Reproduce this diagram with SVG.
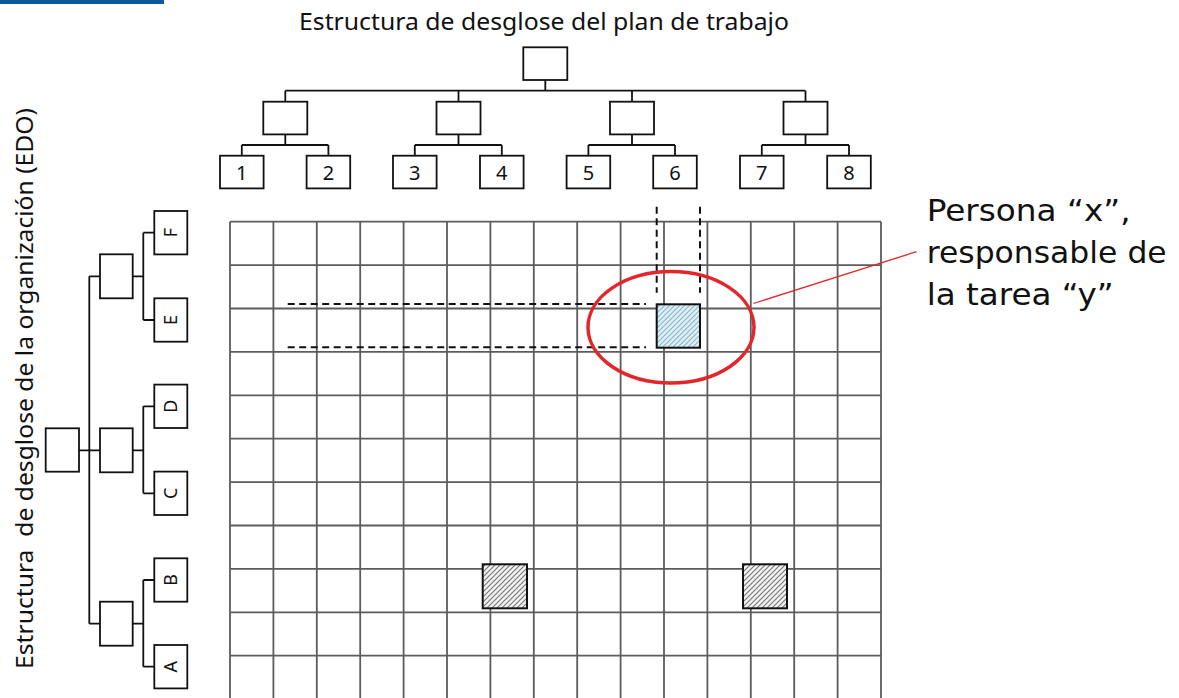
<svg xmlns="http://www.w3.org/2000/svg" width="1179" height="698" viewBox="0 0 1179 698">
<style>
.box{fill:#fff;stroke:#111;stroke-width:1.8}
.ln{fill:none;stroke:#111;stroke-width:1.8}
.grid{fill:none;stroke:#5c5c5c;stroke-width:1.8}
.dash{fill:none;stroke:#111;stroke-width:2;stroke-dasharray:7 4.5}
.lbl{font-family:"Noto Sans","Open Sans",sans-serif;font-size:20px;fill:#111;text-anchor:middle}
.lbl2{font-family:"Noto Sans","Open Sans",sans-serif;font-size:18px;fill:#111;text-anchor:middle}
.ttl{font-family:"Noto Sans","Open Sans",sans-serif;font-size:24px;fill:#111}
.note{font-family:"DejaVu Sans","Noto Sans",sans-serif;font-size:31px;fill:#111}
</style>
<defs>
<pattern id="hatchGray" patternUnits="userSpaceOnUse" width="5" height="5">
<rect width="5" height="5" fill="#f2f2f2"/>
<path d="M-1,6 L6,-1 M-1,1 L1,-1 M4,6 L6,4" stroke="#7a7a7a" stroke-width="1.2"/>
</pattern>
<pattern id="hatchBlue" patternUnits="userSpaceOnUse" width="5" height="5">
<rect width="5" height="5" fill="#dcf0f8"/>
<path d="M-1,6 L6,-1 M-1,1 L1,-1 M4,6 L6,4" stroke="#8fb4c6" stroke-width="1.1"/>
</pattern>
</defs>
<rect x="0" y="0" width="1179" height="698" fill="#fff"/>
<rect x="0" y="0" width="164" height="4" fill="#0b5aa0"/>

<text class="ttl" x="299" y="29.5" textLength="490" lengthAdjust="spacingAndGlyphs">Estructura de desglose del plan de trabajo</text>
<text class="ttl" transform="translate(33,669) rotate(-90)" textLength="561" lengthAdjust="spacingAndGlyphs" xml:space="preserve">Estructura  de desglose de la organización (EDO)</text>

<g id="grid" class="grid">
<path d="M230,221.7H881M230,265.1H881M230,308.5H881M230,351.9H881M230,395.3H881M230,438.7H881M230,482.1H881M230,525.5H881M230,568.9H881M230,612.3H881M230,655.7H881"/>
<path d="M230,221.7V698M273.4,221.7V698M316.8,221.7V698M360.2,221.7V698M403.6,221.7V698M447,221.7V698M490.4,221.7V698M533.8,221.7V698M577.2,221.7V698M620.6,221.7V698M664,221.7V698M707.4,221.7V698M750.8,221.7V698M794.2,221.7V698M837.6,221.7V698M881,221.7V698"/>
</g>

<g id="connectors">
<path class="ln" d="M545.3,80V90.7M285.3,90.7H805.5M285.3,90.7V101.7M458.5,90.7V101.7M632,90.7V101.7M805.5,90.7V101.7"/>
<path class="ln" d="M285.3,134.4V145M241.8,145H328.4M241.8,145V155.7M328.4,145V155.7"/>
<path class="ln" d="M458.5,134.4V145M414.8,145H501.8M414.8,145V155.7M501.8,145V155.7"/>
<path class="ln" d="M632,134.4V145M588.4,145H675M588.4,145V155.7M675,145V155.7"/>
<path class="ln" d="M805.5,134.4V145M761.8,145H849M761.8,145V155.7M849,145V155.7"/>
<path class="ln" d="M79,450.3H89.3M89.3,276.3V623.7M89.3,276.3H100M89.3,450.3H100M89.3,623.7H100"/>
<path class="ln" d="M132.7,276.3H143.3M143.3,232.7V320M143.3,232.7H154.3M143.3,320H154.3"/>
<path class="ln" d="M132.7,450.3H143.3M143.3,406.3V493.3M143.3,406.3H154.3M143.3,493.3H154.3"/>
<path class="ln" d="M132.7,623.7H143.3M143.3,580V666.7M143.3,580H154.3M143.3,666.7H154.3"/>
<path class="dash" d="M287.7,304H646M287.7,347.3H646M656.7,206.7V292.7M700,206.7V292.7"/>
<path d="M753.5,303.5L916.5,251.7" fill="none" stroke="#e3262b" stroke-width="1.3"/>
</g>

<g id="top-root"><rect class="box" x="523.3" y="47.3" width="44" height="32.7"/></g>
<g id="top-a"><rect class="box" x="263.3" y="101.7" width="44" height="32.7"/></g>
<g id="top-b"><rect class="box" x="436.5" y="101.7" width="44" height="32.7"/></g>
<g id="top-c"><rect class="box" x="610" y="101.7" width="44" height="32.7"/></g>
<g id="top-d"><rect class="box" x="783.5" y="101.7" width="44" height="32.7"/></g>
<g id="leaf-1"><rect class="box" x="220" y="155.7" width="43.6" height="32.7"/><text class="lbl" x="241.8" y="180">1</text></g>
<g id="leaf-2"><rect class="box" x="306.6" y="155.7" width="43.6" height="32.7"/><text class="lbl" x="328.4" y="180">2</text></g>
<g id="leaf-3"><rect class="box" x="393" y="155.7" width="43.6" height="32.7"/><text class="lbl" x="414.8" y="180">3</text></g>
<g id="leaf-4"><rect class="box" x="480" y="155.7" width="43.6" height="32.7"/><text class="lbl" x="501.8" y="180">4</text></g>
<g id="leaf-5"><rect class="box" x="566.6" y="155.7" width="43.6" height="32.7"/><text class="lbl" x="588.4" y="180">5</text></g>
<g id="leaf-6"><rect class="box" x="653.2" y="155.7" width="43.6" height="32.7"/><text class="lbl" x="675" y="180">6</text></g>
<g id="leaf-7"><rect class="box" x="740" y="155.7" width="43.6" height="32.7"/><text class="lbl" x="761.8" y="180">7</text></g>
<g id="leaf-8"><rect class="box" x="827.2" y="155.7" width="43.6" height="32.7"/><text class="lbl" x="849" y="180">8</text></g>

<g id="left-root"><rect class="box" x="45.7" y="428.3" width="33.3" height="43.4"/></g>
<g id="left-a"><rect class="box" x="100" y="254.3" width="32.7" height="44"/></g>
<g id="left-b"><rect class="box" x="100" y="428.3" width="32.7" height="44"/></g>
<g id="left-c"><rect class="box" x="100" y="601.7" width="32.7" height="44"/></g>
<g id="leaf-F"><rect class="box" x="154.3" y="211" width="33" height="43.4"/><text class="lbl2" transform="translate(177,232.7) rotate(-90)">F</text></g>
<g id="leaf-E"><rect class="box" x="154.3" y="298.3" width="33" height="43.4"/><text class="lbl2" transform="translate(177,320) rotate(-90)">E</text></g>
<g id="leaf-D"><rect class="box" x="154.3" y="384.6" width="33" height="43.4"/><text class="lbl2" transform="translate(177,406.3) rotate(-90)">D</text></g>
<g id="leaf-C"><rect class="box" x="154.3" y="471.6" width="33" height="43.4"/><text class="lbl2" transform="translate(177,493.3) rotate(-90)">C</text></g>
<g id="leaf-B"><rect class="box" x="154.3" y="558.3" width="33" height="43.4"/><text class="lbl2" transform="translate(177,580) rotate(-90)">B</text></g>
<g id="leaf-A"><rect class="box" x="154.3" y="645" width="33" height="43.4"/><text class="lbl2" transform="translate(177,666.7) rotate(-90)">A</text></g>

<g id="cell-task-y"><rect x="656.7" y="304.3" width="43.3" height="43.4" fill="url(#hatchBlue)" stroke="#111" stroke-width="2"/></g>
<g id="cell-gray-1"><rect x="482.7" y="564.3" width="44.3" height="44" fill="url(#hatchGray)" stroke="#111" stroke-width="2"/></g>
<g id="cell-gray-2"><rect x="743" y="564.3" width="44" height="44" fill="url(#hatchGray)" stroke="#111" stroke-width="2"/></g>

<g id="highlight"><ellipse cx="671" cy="327.3" rx="83" ry="55.7" fill="none" stroke="#e3262b" stroke-width="3.5"/></g>

<g id="note">
<text class="note" x="926.7" y="220.7" textLength="204" lengthAdjust="spacingAndGlyphs">Persona “x”,</text>
<text class="note" x="926.7" y="263.3" textLength="240" lengthAdjust="spacingAndGlyphs">responsable de</text>
<text class="note" x="926.7" y="305" textLength="187" lengthAdjust="spacingAndGlyphs">la tarea “y”</text>
</g>
</svg>
